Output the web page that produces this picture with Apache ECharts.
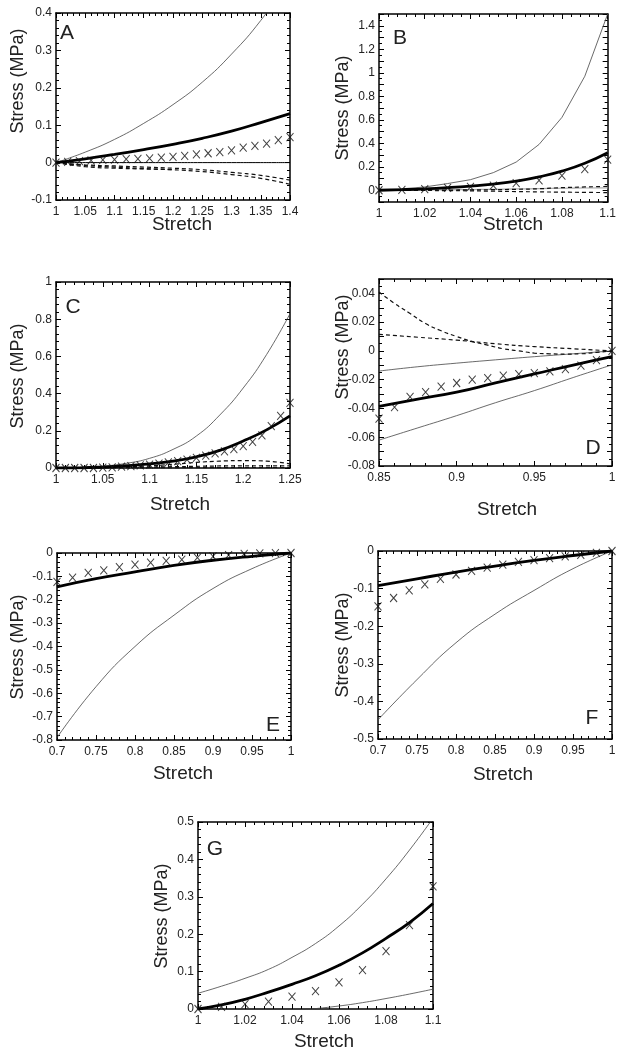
<!DOCTYPE html>
<html><head><meta charset="utf-8">
<script src="https://cdn.jsdelivr.net/npm/echarts@6/dist/echarts.min.js"></script>
<style>html,body{margin:0;padding:0;background:#fff}#c{width:619px;height:1049px}</style>
</head><body><div id="c"></div>
<script>
// ---------- Panel A ----------
const aCurveX = [1, 1.05, 1.1, 1.15, 1.2, 1.25, 1.3, 1.35, 1.4];
const aThin   = [0, 0.028, 0.062, 0.105, 0.155, 0.215, 0.29, 0.38, 0.49];
const aThick  = [0, 0.01, 0.022, 0.035, 0.049, 0.065, 0.084, 0.107, 0.131];
const aZero   = [0, 0, 0, 0, 0, 0, 0, 0, 0];
const aDash1  = [0, -0.006, -0.009, -0.012, -0.015, -0.019, -0.026, -0.034, -0.047];
const aDash2  = [0, -0.008, -0.012, -0.016, -0.019, -0.024, -0.032, -0.042, -0.058];
const aDash3X = [1, 1.05, 1.1, 1.15, 1.2];
const aDash3  = [0, -0.011, -0.015, -0.017, -0.019];
const aPtX = [1, 1.02, 1.04, 1.06, 1.08, 1.1, 1.12, 1.14, 1.16, 1.18, 1.2, 1.22, 1.24, 1.26, 1.28, 1.3, 1.32, 1.34, 1.36, 1.38, 1.4];
const aPts = [0, 0.002, 0.004, 0.006, 0.007, 0.008, 0.009, 0.010, 0.011, 0.013, 0.015, 0.018, 0.022, 0.025, 0.028, 0.033, 0.040, 0.045, 0.051, 0.060, 0.068];

// ---------- Panel B ----------
const bX     = [1, 1.01, 1.02, 1.03, 1.04, 1.05, 1.06, 1.07, 1.08, 1.09, 1.1];
const bThin  = [0, 0.012, 0.028, 0.057, 0.09, 0.15, 0.24, 0.39, 0.62, 0.97, 1.5];
const bThick = [0, 0.005, 0.012, 0.022, 0.035, 0.052, 0.078, 0.114, 0.163, 0.23, 0.32];
const bGray  = [0, 0.001, 0.002, 0.004, 0.006, 0.008, 0.011, 0.014, 0.017, 0.019, 0.021];
const bDashUp  = [0, 0, 0.001, 0.002, 0.003, 0.005, 0.008, 0.013, 0.022, 0.028, 0.033];
const bDashLow = [0, -0.001, -0.002, -0.003, -0.005, -0.008, -0.011, -0.014, -0.016, -0.018, -0.02];
const bPts   = [0, 0.003, 0.01, 0.02, 0.028, 0.04, 0.06, 0.085, 0.125, 0.18, 0.26];

// ---------- Panel C ----------
const cCurveX = [1, 1.025, 1.05, 1.075, 1.1, 1.125, 1.15, 1.175, 1.2, 1.225, 1.25];
const cThin   = [0, 0.002, 0.01, 0.025, 0.052, 0.1, 0.172, 0.285, 0.43, 0.61, 0.83];
const cThick  = [0, 0.001, 0.005, 0.012, 0.022, 0.037, 0.06, 0.095, 0.145, 0.205, 0.28];
const cDash1  = [0, 0.001, 0.003, 0.007, 0.012, 0.02, 0.03, 0.037, 0.04, 0.037, 0.022];
const cDash2  = [0, 0, 0.001, 0.003, 0.005, 0.007, 0.009, 0.011, 0.012, 0.012, 0.012];
const cDash3  = [0, 0, 0, 0, 0.001, 0.001, 0.002, 0.002, 0.003, 0.003, 0.003];
const cPtX = [1, 1.01, 1.02, 1.03, 1.04, 1.05, 1.06, 1.07, 1.08, 1.09, 1.1, 1.11, 1.12, 1.13, 1.14, 1.15, 1.16, 1.17, 1.18, 1.19, 1.2, 1.21, 1.22, 1.23, 1.24, 1.25];
const cPts = [0, 0, 0, 0, 0, 0.002, 0.004, 0.007, 0.01, 0.014, 0.018, 0.024, 0.03, 0.037, 0.045, 0.055, 0.066, 0.078, 0.09, 0.102, 0.118, 0.14, 0.175, 0.225, 0.28, 0.35];

// ---------- Panel D ----------
const dCurveX  = [0.85, 0.875, 0.9, 0.925, 0.95, 0.975, 1];
const dThinUp  = [-0.014, -0.011, -0.0085, -0.0062, -0.004, -0.002, 0];
const dThinLow = [-0.062, -0.0535, -0.045, -0.036, -0.0276, -0.0185, -0.0097];
const dThick   = [-0.0386, -0.0335, -0.0287, -0.0222, -0.016, -0.0098, -0.004];
const dDash2   = [0.0115, 0.0095, 0.0075, 0.005, 0.003, 0.0015, 0];
const dPtX  = [0.85, 0.86, 0.87, 0.88, 0.89, 0.9, 0.91, 0.92, 0.93, 0.94, 0.95, 0.96, 0.97, 0.98, 0.99, 1];
const dDash1 = [0.041, 0.033, 0.026, 0.019, 0.014, 0.01, 0.0065, 0.004, 0.0015, 0, -0.0015, -0.002, -0.0022, -0.002, -0.001, 0];
const dPts  = [-0.047, -0.039, -0.032, -0.0287, -0.0248, -0.0223, -0.02, -0.0189, -0.0172, -0.0161, -0.0154, -0.0143, -0.0126, -0.0103, -0.0064, 0];

// ---------- Panel E ----------
const eCurveX = [0.7, 0.75, 0.8, 0.85, 0.9, 0.95, 1];
const eThin   = [-0.79, -0.572, -0.4, -0.266, -0.152, -0.067, 0];
const eThick  = [-0.145, -0.11, -0.081, -0.053, -0.031, -0.014, 0];
const ePtX = [0.7, 0.72, 0.74, 0.76, 0.78, 0.8, 0.82, 0.84, 0.86, 0.88, 0.9, 0.92, 0.94, 0.96, 0.98, 1];
const ePts = [-0.124, -0.105, -0.085, -0.074, -0.06, -0.05, -0.041, -0.034, -0.028, -0.02, -0.014, -0.009, -0.004, -0.002, -0.001, 0];

// ---------- Panel F ----------
const fCurveX = [0.7, 0.75, 0.8, 0.85, 0.9, 0.95, 1];
const fThin   = [-0.449, -0.342, -0.244, -0.168, -0.105, -0.047, 0];
const fThick  = [-0.092, -0.074, -0.056, -0.04, -0.025, -0.012, 0];
const fPtX = [0.7, 0.72, 0.74, 0.76, 0.78, 0.8, 0.82, 0.84, 0.86, 0.88, 0.9, 0.92, 0.94, 0.96, 0.98, 1];
const fPts = [-0.147, -0.125, -0.105, -0.089, -0.074, -0.0625, -0.053, -0.044, -0.036, -0.029, -0.024, -0.019, -0.014, -0.01, -0.005, 0];

// ---------- Panel G ----------
const gX       = [1, 1.01, 1.02, 1.03, 1.04, 1.05, 1.06, 1.07, 1.08, 1.09, 1.1];
const gThinUp  = [0.042, 0.061, 0.082, 0.106, 0.138, 0.175, 0.222, 0.28, 0.348, 0.425, 0.51];
const gThick   = [0, 0.011, 0.026, 0.045, 0.066, 0.089, 0.117, 0.15, 0.189, 0.231, 0.282];
const gThinLowX = [1.045, 1.05, 1.06, 1.07, 1.08, 1.09, 1.1];
const gThinLow  = [-0.002, 0.001, 0.008, 0.017, 0.028, 0.04, 0.053];
const gPts     = [0, 0.006, 0.013, 0.02, 0.033, 0.048, 0.071, 0.104, 0.155, 0.224, 0.328];

// ---------- Text ----------
const yTitle = 'Stress (MPa)';
const xTitle = 'Stretch';
const panelLetters = ['A', 'B', 'C', 'D', 'E', 'F', 'G'];

// ================= build =================
const FONT = '"Liberation Sans", Arial, Helvetica, sans-serif';
const zip = (xs, ys) => xs.map((x, i) => [x, ys[i]]);
const r = (v, d) => { const s = Number(v.toFixed(d)); return String(s); };

const panels = [
  { grid: [56, 13, 234, 187], x: [1, 1.4, 0.05, 2], y: [-0.1, 0.4, 0.1, 1],
    xf: v => r(v, 2), yf: v => r(v, 1),
    series: [
      ['thin', aCurveX, aThin], ['thick', aCurveX, aThick], ['zero', aCurveX, aZero],
      ['dash', aCurveX, aDash1], ['dash', aCurveX, aDash2], ['dash', aDash3X, aDash3], ['pts', aPtX, aPts]],
    yName: [18, 81], xName: [182, 225], letter: [67, 33] },
  { grid: [379, 14, 234, 188], x: [1, 1.1, 0.02, 2], y: [-0.1, 1.5, 0.1, 2],
    xf: v => r(v, 2), yf: v => { const k = Math.round(v * 10); return (k >= 0 && k <= 14 && k % 2 === 0) ? r(v, 1) : ''; },
    series: [
      ['thin', bX, bThin, 'line'], ['thick', bX, bThick], ['gray', bX, bGray],
      ['dash', bX, bDashUp], ['dash', bX, bDashLow], ['pts', bX, bPts]],
    yName: [343, 108], xName: [513, 225], letter: [400, 38] },
  { grid: [56, 282, 234, 186], x: [1, 1.25, 0.05, 2], y: [0, 1, 0.2, 1],
    xf: v => r(v, 2), yf: v => r(v, 1),
    series: [
      ['thin', cCurveX, cThin], ['thick', cCurveX, cThick],
      ['dash', cCurveX, cDash1], ['dash', cCurveX, cDash2], ['dash', cCurveX, cDash3], ['pts', cPtX, cPts]],
    yName: [18, 376], xName: [180, 505], letter: [73, 307] },
  { grid: [379, 279, 233, 187], x: [0.85, 1, 0.05, 2], y: [-0.08, 0.05, 0.01, 2],
    xf: v => r(v, 2), yf: v => { const k = Math.round(v * 100); return (k <= 4 && k % 2 === 0) ? r(v, 2) : ''; },
    series: [
      ['thin', dCurveX, dThinUp], ['thin', dCurveX, dThinLow], ['thick', dCurveX, dThick],
      ['dash', dPtX, dDash1], ['dash', dCurveX, dDash2], ['pts', dPtX, dPts]],
    yName: [343, 347], xName: [507, 510], letter: [593, 448] },
  { grid: [57, 553, 234, 187], x: [0.7, 1, 0.05, 2], y: [-0.8, 0, 0.1, 1],
    xf: v => r(v, 2), yf: v => r(v, 1),
    series: [['thin', eCurveX, eThin], ['thick', eCurveX, eThick], ['pts', ePtX, ePts]],
    yName: [18, 647], xName: [183, 774], letter: [273, 725] },
  { grid: [378, 551, 234, 188], x: [0.7, 1, 0.05, 2], y: [-0.5, 0, 0.1, 1],
    xf: v => r(v, 2), yf: v => r(v, 1),
    series: [['thin', fCurveX, fThin], ['thick', fCurveX, fThick], ['pts', fPtX, fPts]],
    yName: [343, 645], xName: [503, 775], letter: [592, 718] },
  { grid: [198, 822, 235, 187], x: [1, 1.1, 0.02, 2], y: [0, 0.5, 0.1, 1],
    xf: v => r(v, 2), yf: v => r(v, 1),
    series: [['thin', gX, gThinUp], ['thick', gX, gThick], ['thin', gThinLowX, gThinLow], ['pts', gX, gPts]],
    yName: [162, 916], xName: [324, 1042], letter: [215, 849] }
];

const option = { animation: false, backgroundColor: '#fff', grid: [], xAxis: [], yAxis: [], series: [], graphic: [] };

const frame = { show: true, onZero: false, lineStyle: { color: '#000', width: 1.5 } };
const tick = { show: true, inside: true, length: 5, lineStyle: { color: '#000', width: 1 } };
const minor = n => ({ show: true, splitNumber: n, length: 3, lineStyle: { color: '#000', width: 1 } });

panels.forEach((p, i) => {
  const [l, t, w, h] = p.grid;
  option.grid.push({ left: l, top: t, width: w, height: h, containLabel: false });
  const xb = { type: 'value', gridIndex: i, min: p.x[0], max: p.x[1], interval: p.x[2],
    axisLine: frame, axisTick: tick, minorTick: minor(5), splitLine: { show: false } };
  const yb = { type: 'value', gridIndex: i, min: p.y[0], max: p.y[1], interval: p.y[2],
    axisLine: frame, axisTick: tick, minorTick: minor(p.y[3] === 2 ? 2 : 5), splitLine: { show: false } };
  option.xAxis.push(Object.assign({}, xb, { position: 'bottom',
    axisLabel: { show: true, margin: 6, color: '#222', fontSize: 12, fontFamily: FONT, formatter: p.xf, showMaxLabel: true, showMinLabel: true } }));
  option.xAxis.push(Object.assign({}, xb, { position: 'top', axisLabel: { show: false } }));
  option.yAxis.push(Object.assign({}, yb, { position: 'left',
    axisLabel: { show: true, margin: 4, color: '#222', fontSize: 12, fontFamily: FONT, formatter: p.yf, showMaxLabel: p.yf(p.y[1]) !== '', showMinLabel: true } }));
  option.yAxis.push(Object.assign({}, yb, { position: 'right', axisLabel: { show: false } }));
  const xi = 2 * i, yi = 2 * i;
  p.series.forEach(([kind, xs, ys, mode]) => {
    const base = { xAxisIndex: xi, yAxisIndex: yi, data: zip(xs, ys), silent: true };
    if (kind === 'pts') {
      option.series.push(Object.assign(base, { type: 'scatter', clip: false,
        symbol: 'path://M0,0L8,10M8,0L0,10', symbolSize: [7, 8],
        itemStyle: { color: 'rgba(0,0,0,0)', borderColor: '#111', borderWidth: 1 }, z: 5 }));
    } else {
      const ls = {
        thin: { color: '#444', width: 0.8 },
        thick: { color: '#000', width: 2.8 },
        zero: { color: '#000', width: 1 },
        gray: { color: '#aaa', width: 1.2 },
        dash: { color: '#111', width: 1.2, type: [4, 3] }
      }[kind];
      option.series.push(Object.assign(base, { type: 'line', showSymbol: false, symbol: 'none',
        smooth: mode === 'line' ? false : 0.5, clip: true, lineStyle: ls, z: kind === 'thick' ? 4 : 3 }));
    }
  });
  option.graphic.push({ type: 'text', x: p.yName[0], y: p.yName[1], rotation: Math.PI / 2,
    style: { text: yTitle, font: '18px ' + FONT, fill: '#222', align: 'center', verticalAlign: 'middle' } });
  option.graphic.push({ type: 'text', x: p.xName[0], y: p.xName[1],
    style: { text: xTitle, font: '19px ' + FONT, fill: '#222', align: 'center', verticalAlign: 'middle' } });
  option.graphic.push({ type: 'text', x: p.letter[0], y: p.letter[1],
    style: { text: panelLetters[i], font: '21px ' + FONT, fill: '#222', align: 'center', verticalAlign: 'middle' } });
});

const chart = echarts.init(document.getElementById('c'), null, { renderer: 'canvas' });
chart.setOption(option);
</script></body></html>
